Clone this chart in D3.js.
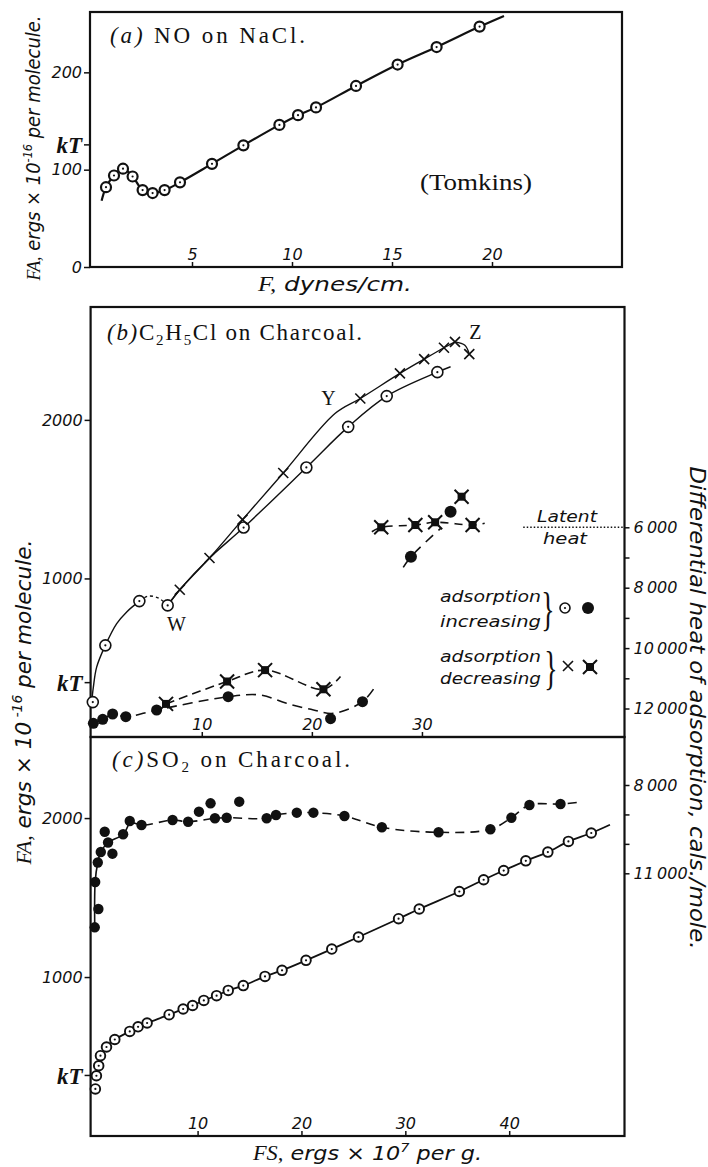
<!DOCTYPE html>
<html>
<head>
<meta charset="utf-8">
<script src="https://cdn.jsdelivr.net/npm/d3@7"></script>
<style>
  body { margin: 0; background: #fff; }
  text { fill: #111; }
  .tick text { font-family: "DejaVu Sans"; font-style: italic; font-size: 16px; }
  .tick text.kt { font-family: "Liberation Serif"; font-style: italic; font-weight: bold; font-size: 23px; }
  .title { font-family: "Liberation Serif"; font-size: 23px; }
  .it { font-family: "DejaVu Sans"; font-style: italic; }
  .sit { font-family: "Liberation Serif"; font-style: italic; }
</style>
</head>
<body>
<svg id="chart" width="708" height="1167"></svg>
<script>
// ---- (a) NO on NaCl : [F dynes/cm, FA ergs x 1e-16]
var aPoints = [[0.7,82],[1.1,94],[1.55,101],[2.03,93],[2.53,79],[3.03,76],[3.63,79],[4.4,87],[6.0,106],[7.57,125],[9.37,146],[10.3,156],[11.2,164],[13.2,186],[15.28,208],[17.23,226],[19.38,247]];
var aEnds = [[0.48,68],[20.6,258]];
var aTicksX = [5,10,15,20];
var aTicksY = [0,100,200];
var aKT = 126;

// ---- (b) C2H5Cl on charcoal : [FS, FA] and [FS, heat cals/mole]
var bOpen = [[0.1,220],[1.24,578],[4.33,857],[6.9,830],[13.8,1321],[19.5,1700],[23.3,1956],[26.8,2150],[31.4,2301]];
var bOpenRise = [[0,220],[0.15,314],[0.45,441],[1.24,578],[2.27,715],[3.18,789],[4.33,857]];
var bOpenDip = [[4.33,857],[5.15,889],[6.1,875],[6.9,830]];
var bOpenRun = [[6.9,830],[8.0,929],[10.7,1129],[13.8,1321],[19.5,1700],[23.3,1956],[26.8,2150],[31.4,2301],[32.6,2335]];
var bStar = [[8.0,929],[10.7,1129],[13.7,1371],[17.4,1665],[24.4,2135],[28.0,2293],[30.2,2383],[32.0,2455],[33.0,2492],[34.3,2415]];
var bStarRun = [[6.9,830],[8.0,929],[10.7,1129],[13.7,1371],[17.4,1665],[22.1,2040],[24.4,2135],[28.0,2293],[30.2,2383],[32.0,2455],[33.0,2492]];
var bStarHook = [[33.0,2492],[33.9,2471],[34.3,2415]];
var bDot = [[0.15,12490],[1.0,12358],[1.9,12182],[3.1,12271],[5.9,12050],[12.4,11609],[21.7,12338],[24.6,11775]];
var bDotRun = [[0,12560],[0.15,12490],[1.0,12358],[1.9,12182],[3.1,12271],[5.9,12050],[12.4,11609],[15.3,11553],[17.7,11828],[20.15,12050],[21.97,12159],[24.6,11775],[25.8,11252]];
var bBox = [[6.75,11848],[12.3,11106],[15.75,10729],[21.05,11364]];
var bBoxRun = [[6.75,11848],[12.3,11106],[15.75,10729],[21.05,11364],[22.6,10940]];
var bBoxHigh = [[26.3,6000],[29.4,5924],[31.2,5834],[34.6,5924],[33.6,4987]];
var bBoxHighRun = [[25.45,6146],[26.3,6000],[29.4,5924],[31.2,5834],[34.6,5924],[35.7,5868]];
var bDotHigh = [[29.0,6973],[32.6,5483]];
var bDotHighRun = [[28.3,7325],[29.0,6973],[31.7,6033]];
var bLatent = [[39.2,6000],[48.4,6000]];
var bNotes = [["W",7.7,715],["Y",21.5,2135],["Z",34.85,2556]];
var bTicksX = [10,20,30];
var bTicksY = [1000,2000];
var bKT = 346;
var bHeatTicks = [6000,7000,8000,9000,10000,11000,12000];
var bHeatLabels = [6000,8000,10000,12000];

// ---- (c) SO2 on charcoal
var cOpen = [[0.16,296],[0.26,379],[0.48,442],[0.65,505],[1.23,560],[2.03,607],[3.47,658],[4.27,687],[5.14,711],[7.26,763],[8.61,799],[9.52,821],[10.6,853],[11.83,883],[12.95,916],[14.4,946],[16.49,1004],[18.13,1042],[20.44,1105],[22.92,1176],[25.49,1252],[29.35,1367],[31.34,1428],[35.2,1538],[37.54,1612],[39.47,1670],[41.6,1731],[43.72,1786],[45.7,1853],[47.9,1906]];
var cOpenEnd = [49.7,1958];
var cDot = [[0.1,12835],[0.45,12213],[0.14,11296],[0.39,10633],[0.68,10277],[1.8,10334],[1.38,9954],[1.06,9587],[2.83,9675],[3.47,9223],[4.6,9359],[7.59,9189],[9.09,9247],[10.13,8907],[11.25,8622],[11.67,9131],[12.8,9111],[14.01,8567],[16.65,9131],[17.55,9019],[19.55,8941],[21.15,8941],[24.14,9053],[27.74,9437],[33.2,9607],[38.19,9505],[40.21,9111],[41.95,8680],[44.94,8646]];
var cDotRise = [[0.1,12835],[0.14,11296],[0.39,10633],[0.68,10277],[1.38,9954],[2.83,9675],[3.47,9223]];
var cDotRun = [[3.47,9223],[4.6,9359],[7.59,9189],[9.09,9247],[11.67,9131],[12.8,9111],[16.65,9131],[17.55,9019],[19.55,8941],[21.15,8941],[24.14,9053],[27.74,9437],[33.2,9607],[38.19,9505],[40.21,9111],[41.95,8680],[44.94,8646],[46.7,8588]];
var cTicksX = [10,20,30,40];
var cTicksY = [1000,2000];
var cKT = 384;
var cHeatTicks = [8000,9000,10000,11000];
var cHeatLabels = [8000,11000];

var svg = d3.select("#chart");
var ink = "#111";

var xA = d3.scaleLinear().domain([-0.1, 26.5]).range([90, 622]),
    yA = d3.scaleLinear().domain([0, 262]).range([267, 12]);
var xB = d3.scaleLinear().domain([-0.1, 48.4]).range([90.6, 624.5]),
    yB = d3.scaleLinear().domain([0, 2712]).range([737, 307]),
    hB = d3.scaleLinear().domain([6000, 12000]).range([527.3, 708.5]);
var xC = d3.scaleLinear().domain([-0.3, 51.1]).range([90.6, 624.5]),
    yC = d3.scaleLinear().domain([0, 2510]).range([1136, 737]),
    hC = d3.scaleLinear().domain([8000, 11000]).range([785, 873.3]);

function frame(x, y) {
	svg.append("rect")
		.attr("x", x.range()[0]).attr("y", y.range()[1])
		.attr("width", x.range()[1] - x.range()[0])
		.attr("height", y.range()[0] - y.range()[1])
		.attr("fill", "none").attr("stroke", ink).attr("stroke-width", 2.2);
}

function curve(x, y, pts, w, dash) {
	svg.append("path").datum(pts)
		.attr("d", d3.line().x(function(d) { return x(d[0]); }).y(function(d) { return y(d[1]); })
			.curve(d3.curveCatmullRom.alpha(0.5)))
		.attr("fill", "none").attr("stroke", ink)
		.attr("stroke-width", w).attr("stroke-dasharray", dash || null);
}

function openDots(x, y, pts, r, w) {
	var g = svg.selectAll(null).data(pts).enter().append("g")
		.attr("transform", function(d) { return "translate(" + x(d[0]) + "," + y(d[1]) + ")"; });
	g.append("circle").attr("r", r).attr("fill", "#fff").attr("stroke", ink).attr("stroke-width", w);
	g.append("circle").attr("r", 1.1).attr("fill", ink);
}

function fullDots(x, y, pts, r) {
	svg.selectAll(null).data(pts).enter().append("circle")
		.attr("cx", function(d) { return x(d[0]); })
		.attr("cy", function(d) { return y(d[1]); })
		.attr("r", r).attr("fill", ink);
}

function crosses(x, y, pts) {
	svg.selectAll(null).data(pts).enter().append("path")
		.attr("transform", function(d) { return "translate(" + x(d[0]) + "," + y(d[1]) + ")"; })
		.attr("d", "M-5,-5L5,5M-5,5L5,-5")
		.attr("stroke", ink).attr("stroke-width", 1.6).attr("fill", "none");
}

function boxCrosses(x, y, pts) {
	var g = svg.selectAll(null).data(pts).enter().append("g")
		.attr("transform", function(d) { return "translate(" + x(d[0]) + "," + y(d[1]) + ")"; });
	g.append("rect").attr("x", -4).attr("y", -4).attr("width", 8).attr("height", 8).attr("fill", ink);
	g.append("path").attr("d", "M-7,-7L7,7M-7,7L7,-7").attr("stroke", ink).attr("stroke-width", 2);
}

function leftAxis(x, y, ticks, kt) {
	var g = svg.append("g").attr("transform", "translate(" + x.range()[0] + ",0)")
		.call(d3.axisLeft(y).tickValues(ticks.concat([kt])).tickSize(6).tickPadding(2)
			.tickFormat(function(d) { return d === kt ? "kT" : d; }));
	g.select(".domain").remove();
	g.selectAll(".tick line").attr("stroke", ink).attr("stroke-width", 1.5);
	g.selectAll(".tick text").filter(function(d) { return d === kt; }).attr("class", "kt").attr("dy", "0.35em");
}

function bottomAxis(x, y, ticks) {
	var g = svg.append("g").attr("transform", "translate(0," + y.range()[0] + ")")
		.call(d3.axisTop(x).tickValues(ticks).tickSize(5).tickPadding(2));
	g.select(".domain").remove();
	g.selectAll(".tick line").attr("stroke", ink).attr("stroke-width", 1.5);
}

function rightAxis(x, h, ticks, labels) {
	var g = svg.append("g").attr("transform", "translate(" + x.range()[1] + ",0)")
		.call(d3.axisRight(h).tickValues(ticks).tickSize(5).tickPadding(4)
			.tickFormat(function(d) { return labels.indexOf(d) >= 0 ? d3.format(",")(d).replace(",", "\u2009") : ""; }));
	g.select(".domain").remove();
	g.selectAll(".tick line").attr("stroke", ink).attr("stroke-width", 1.5);
}

// ---------- panel (a)
frame(xA, yA);
leftAxis(xA, yA, aTicksY, aKT);
bottomAxis(xA, yA, aTicksX);
curve(xA, yA, [aEnds[0]].concat(aPoints, [aEnds[1]]), 2.2);
openDots(xA, yA, aPoints, 5, 2.2);

var ta = svg.append("text").attr("class", "title").attr("x", 110).attr("y", 43)
	.attr("textLength", 195).attr("lengthAdjust", "spacing");
ta.append("tspan").attr("font-style", "italic").text("(a)");
ta.append("tspan").text(" NO on NaCl.");

svg.append("text").attr("class", "title").attr("x", 420).attr("y", 190).attr("font-size", 22)
	.attr("textLength", 112).attr("lengthAdjust", "spacingAndGlyphs").text("(Tomkins)");

var fa = svg.append("text").attr("x", 258).attr("y", 291).attr("font-size", 20)
	.attr("textLength", 154).attr("lengthAdjust", "spacingAndGlyphs");
fa.append("tspan").attr("class", "sit").text("F,");
fa.append("tspan").attr("class", "it").text(" dynes/cm.");

var ya = svg.append("text").attr("transform", "translate(40,148) rotate(-90)")
	.attr("text-anchor", "middle").attr("font-size", 19)
	.attr("textLength", 265).attr("lengthAdjust", "spacingAndGlyphs");
ya.append("tspan").attr("class", "sit").text("FA,");
ya.append("tspan").attr("class", "it").text(" ergs \u00d7 10");
ya.append("tspan").attr("class", "it").attr("font-size", 12).attr("dy", -8).text("-16");
ya.append("tspan").attr("class", "it").attr("dy", 8).text(" per molecule.");

// ---------- panels (b) and (c) frames and axes
frame(xB, yB);
frame(xC, yC);
leftAxis(xB, yB, bTicksY, bKT);
bottomAxis(xB, yB, bTicksX);
rightAxis(xB, hB, bHeatTicks, bHeatLabels);
leftAxis(xC, yC, cTicksY, cKT);
bottomAxis(xC, yC, cTicksX);
rightAxis(xC, hC, cHeatTicks, cHeatLabels);

// ---------- panel (b) marks
curve(xB, yB, bOpenRise, 1.4);
curve(xB, yB, bOpenDip, 1.4, "3,3");
curve(xB, yB, bOpenRun, 1.4);
curve(xB, yB, bStarRun, 1.4);
curve(xB, yB, bStarHook, 1.4);
curve(xB, hB, bDotRun, 1.6, "10,6");
curve(xB, hB, bBoxRun, 1.6, "9,5");
curve(xB, hB, bBoxHighRun, 1.6, "8,6");
curve(xB, hB, bDotHighRun, 1.6, "10,7");
curve(xB, hB, bLatent, 1.5, "1.5,2");
openDots(xB, yB, bOpen, 5.5, 1.6);
crosses(xB, yB, bStar);
fullDots(xB, hB, bDot, 5.5);
fullDots(xB, hB, bDotHigh, 6);
boxCrosses(xB, hB, bBox);
boxCrosses(xB, hB, bBoxHigh);

svg.selectAll(null).data(bNotes).enter().append("text")
	.attr("x", function(d) { return xB(d[1]); })
	.attr("y", function(d) { return yB(d[2]); })
	.attr("dy", "0.35em").attr("text-anchor", "middle")
	.attr("font-family", "Liberation Serif").attr("font-size", 20)
	.text(function(d) { return d[0]; });

var tb = svg.append("text").attr("class", "title").attr("x", 107).attr("y", 340)
	.attr("textLength", 255).attr("lengthAdjust", "spacing");
tb.append("tspan").attr("font-style", "italic").text("(b)");
tb.append("tspan").text("C");
tb.append("tspan").attr("font-size", 15).attr("dy", 5).text("2");
tb.append("tspan").attr("dy", -5).text("H");
tb.append("tspan").attr("font-size", 15).attr("dy", 5).text("5");
tb.append("tspan").attr("dy", -5).text("Cl on Charcoal.");

svg.append("text").attr("class", "it").attr("x", 567).attr("y", 522).attr("font-size", 15)
	.attr("text-anchor", "middle").attr("textLength", 60).attr("lengthAdjust", "spacingAndGlyphs").text("Latent");
svg.append("text").attr("class", "it").attr("x", 565).attr("y", 544).attr("font-size", 15)
	.attr("text-anchor", "middle").attr("textLength", 44).attr("lengthAdjust", "spacingAndGlyphs").text("heat");

// legend
var legendRows = [["adsorption", 602], ["increasing", 627], ["adsorption", 662], ["decreasing", 684]];
svg.selectAll(null).data(legendRows).enter().append("text").attr("class", "it")
	.attr("x", 440).attr("y", function(d) { return d[1]; }).attr("font-size", 16)
	.attr("textLength", 101).attr("lengthAdjust", "spacingAndGlyphs")
	.text(function(d) { return d[0]; });
[[548, 609], [551, 668]].forEach(function(p) {
	svg.append("text").attr("x", p[0]).attr("y", p[1]).attr("dy", "0.35em")
		.attr("font-family", "Liberation Serif").attr("font-size", 46)
		.attr("text-anchor", "middle").attr("transform", "translate(" + p[0] * 0.4 + ",0) scale(0.6,1)")
		.text("}");
});
var lo = svg.append("g").attr("transform", "translate(565,608)");
lo.append("circle").attr("r", 5).attr("fill", "#fff").attr("stroke", ink).attr("stroke-width", 1.6);
lo.append("circle").attr("r", 1.1).attr("fill", ink);
svg.append("circle").attr("cx", 588).attr("cy", 608).attr("r", 6).attr("fill", ink);
svg.append("path").attr("d", "M563,661L573,671M563,671L573,661").attr("stroke", ink).attr("stroke-width", 1.6);
svg.append("rect").attr("x", 586).attr("y", 663).attr("width", 8).attr("height", 8).attr("fill", ink);
svg.append("path").attr("d", "M583,660L597,674M583,674L597,660").attr("stroke", ink).attr("stroke-width", 2);

// ---------- panel (c) marks
curve(xC, yC, cOpen.slice(1).concat([cOpenEnd]), 1.8);
curve(xC, hC, cDotRise, 1.6);
curve(xC, hC, cDotRun, 1.6, "9,6");
openDots(xC, yC, cOpen, 4.8, 1.9);
fullDots(xC, hC, cDot, 5.2);

var tc = svg.append("text").attr("class", "title").attr("x", 112).attr("y", 767)
	.attr("textLength", 238).attr("lengthAdjust", "spacing");
tc.append("tspan").attr("font-style", "italic").text("(c)");
tc.append("tspan").text("SO");
tc.append("tspan").attr("font-size", 15).attr("dy", 5).text("2");
tc.append("tspan").attr("dy", -5).text(" on Charcoal.");

var fc = svg.append("text").attr("x", 253).attr("y", 1160).attr("font-size", 20)
	.attr("textLength", 229).attr("lengthAdjust", "spacingAndGlyphs");
fc.append("tspan").attr("class", "sit").text("FS,");
fc.append("tspan").attr("class", "it").text(" ergs \u00d7 10");
fc.append("tspan").attr("class", "it").attr("font-size", 13).attr("dy", -8).text("7");
fc.append("tspan").attr("class", "it").attr("dy", 8).text(" per g.");

var yb = svg.append("text").attr("transform", "translate(31,702) rotate(-90)")
	.attr("text-anchor", "middle").attr("font-size", 22)
	.attr("textLength", 325).attr("lengthAdjust", "spacingAndGlyphs");
yb.append("tspan").attr("class", "sit").text("FA,");
yb.append("tspan").attr("class", "it").text(" ergs \u00d7 10");
yb.append("tspan").attr("class", "it").attr("font-size", 14).attr("dy", -9).text(" -16");
yb.append("tspan").attr("class", "it").attr("dy", 9).text(" per molecule.");

svg.append("text").attr("class", "it").attr("transform", "translate(690,708) rotate(90)")
	.attr("text-anchor", "middle").attr("font-size", 21)
	.attr("textLength", 483).attr("lengthAdjust", "spacingAndGlyphs")
	.text("Differential heat of adsorption, cals./mole.");
</script>
</body>
</html>
